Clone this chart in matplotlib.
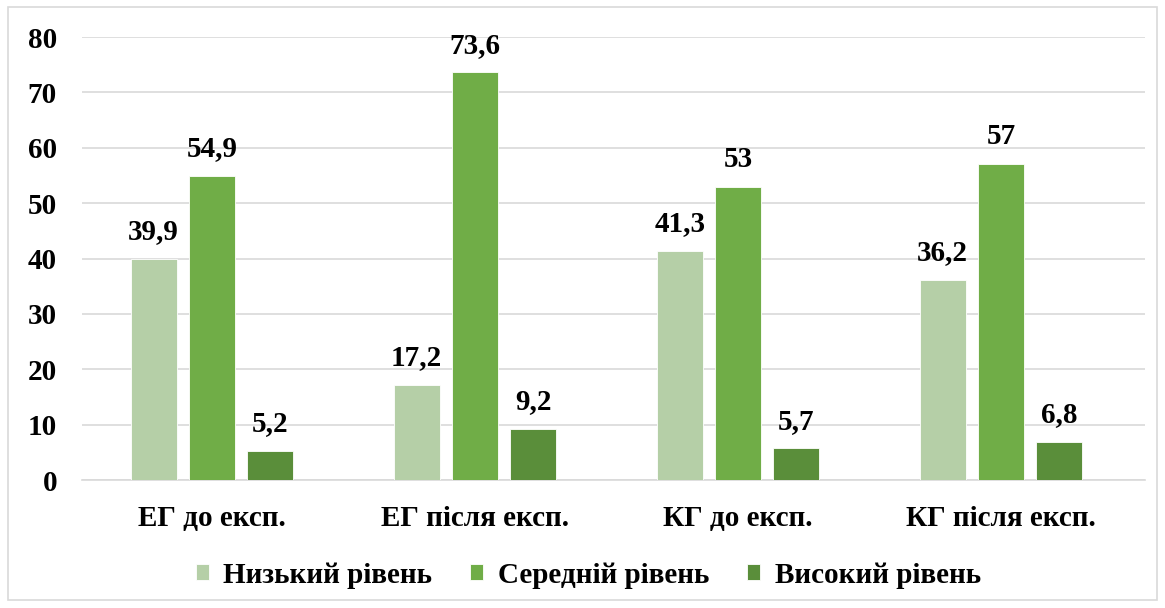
import matplotlib.pyplot as plt
import matplotlib.patches as patches
import numpy as np

categories = ["ЕГ до експ.", "ЕГ після експ.", "КГ до експ.", "КГ після експ."]
series_names = ["Низький рівень", "Середній рівень", "Високий рівень"]
low = [39.9, 17.2, 41.3, 36.2]
mid = [54.9, 73.6, 53, 57]
high = [5.2, 9.2, 5.7, 6.8]
colors = ["#B5CFA7", "#70AD47", "#5A8E3A"]

plt.rcParams['font.family'] = ['Liberation Serif', 'DejaVu Serif']
plt.rcParams['font.weight'] = 'bold'
fs = 21

fig = plt.figure(figsize=(11.65, 6.08), dpi=100)
ax = fig.add_axes([0.0704, 0.2105, 0.9126, 0.7286])

x = np.arange(len(categories))
width = 0.175
step = 0.222
for i, (vals, name) in enumerate(zip([low, mid, high], series_names)):
    pos = x + (i - 1) * step
    ax.bar(pos, vals, width, color=colors[i], label=name, zorder=3,
           edgecolor='white', linewidth=0.6)
    for p, v in zip(pos, vals):
        txt = f"{v:g}".replace('.', ',')
        ax.annotate(txt, (p, v), xytext=(0, 10), textcoords='offset points',
                    ha='center', va='bottom', fontsize=fs, fontweight='bold')

ax.set_xlim(-0.494, 3.548)
ax.set_ylim(0, 80)
ax.set_yticks(range(0, 81, 10))
ax.set_xticks(x)
ax.set_xticklabels(categories, fontsize=fs, fontweight='bold')
ax.tick_params(axis='y', labelsize=fs, length=0, pad=18)
ax.tick_params(axis='x', length=0, pad=18)
ax.grid(axis='y', color='#D9D9D9', linewidth=1.2, zorder=0)
for s in ['top', 'right', 'left']:
    ax.spines[s].set_visible(False)
ax.spines['bottom'].set_color('#D9D9D9')
ax.spines['bottom'].set_linewidth(1.2)

fig.legend(loc='center', bbox_to_anchor=(0.505, 0.054), ncol=3, frameon=False,
           handlelength=0.45, handleheight=0.45, columnspacing=1.3,
           handletextpad=0.5, prop={'weight': 'bold', 'size': fs})

fig.patches.append(patches.Rectangle((8 / 1165, 1 - 600 / 608), 1149 / 1165, 593 / 608,
                                     transform=fig.transFigure, fill=False,
                                     edgecolor='#D9D9D9', linewidth=1.2))

fig.savefig("out.png", dpi=100)
